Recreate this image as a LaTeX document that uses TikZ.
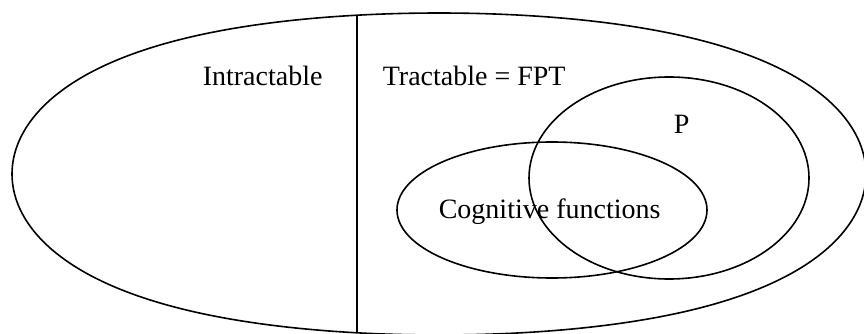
\documentclass[tikz,border=0pt]{standalone}
\usepackage{fontspec}
\setmainfont{Liberation Serif}
\usetikzlibrary{positioning}

\begin{document}
\begin{tikzpicture}[x=1pt, y=-1pt, line width=1.6pt,
  label/.style={anchor=base west, inner sep=0pt, font=\fontsize{28}{34}\selectfont}]

\useasboundingbox (0,0) rectangle (864,334);

% outer set, a slightly squared ellipse
\draw plot[domain=0:360, samples=145, smooth cycle, variable=\t]
  ({439+427*cos(\t)}, {174+(161+22*cos(\t)*cos(\t))*sin(\t)});

\coordinate (split top)    at (357,15.3);
\coordinate (split bottom) at (357,332.7);
\draw (split top) -- (split bottom);

% inner sets
\draw (669,178) ellipse [x radius=140, y radius=101];
\draw (552,210) ellipse [x radius=155, y radius=68];

\node[label] (intr) at (202,86)  {Intractable};
\node[label] (tr)   at (382,86)  {Tractable = FPT};
\node[label] (P)    at (673,133) {P};
\node[label] (cog)  at (438,218) {Cognitive functions};
\end{tikzpicture}
\end{document}
